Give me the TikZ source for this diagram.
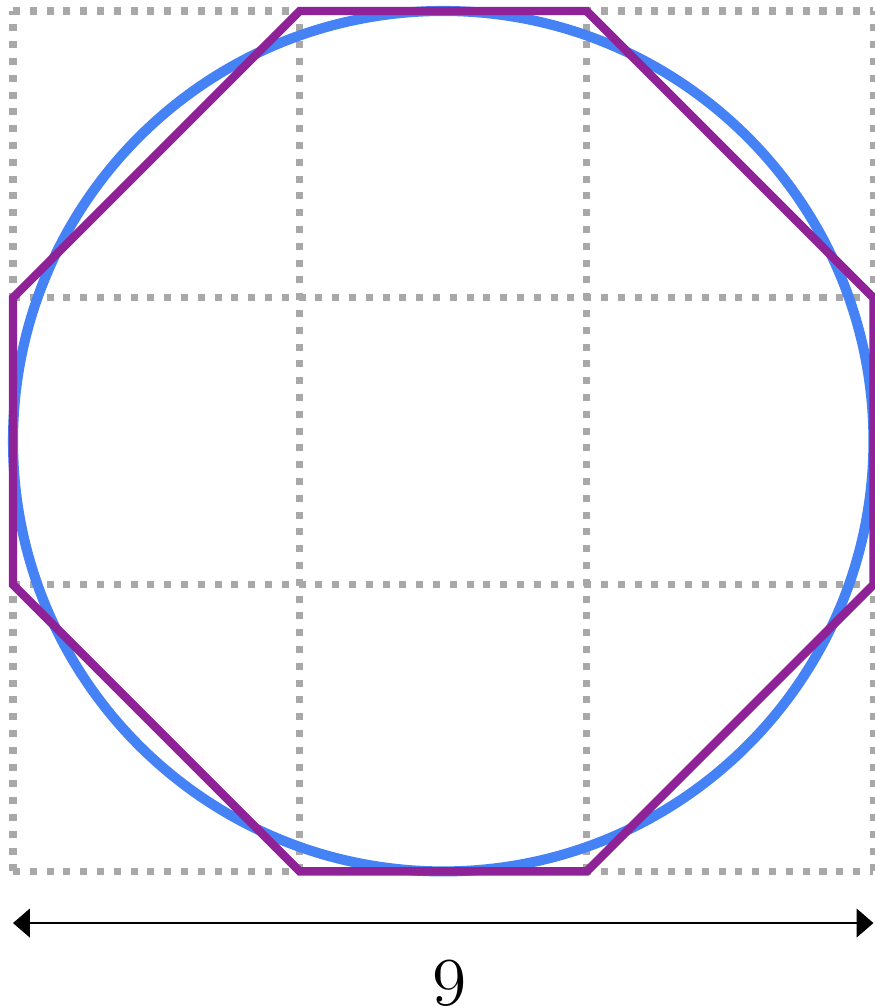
\documentclass[tikz,border=0pt]{standalone}
\usetikzlibrary{arrows.meta}
\definecolor{cblue}{HTML}{4482F5}
\definecolor{cpurple}{HTML}{8E2296}
\definecolor{cgrey}{HTML}{A8A8A8}
\tikzset{
  gridline/.style={draw=cgrey, line width=2.1pt, dash pattern=on 2.1pt off 2.9pt},
  circleline/.style={draw=cblue, line width=3pt},
  octline/.style={draw=cpurple, line width=2.5pt},
  dimarrow/.style={{Triangle[length=5pt,width=8.5pt]}-{Triangle[length=5pt,width=8.5pt]}, line width=0.6pt},
  dimlabel/.style={font=\fontsize{21}{24}\selectfont, inner sep=0pt},
}
\begin{document}
\begin{tikzpicture}
  \useasboundingbox (-0.136,-1.418) rectangle (9.01,9.115);
  % grid of 3x3 cells
  \foreach \k in {0,3,6,9} {
    \draw[gridline] (\k,0) -- (\k,9);
    \draw[gridline] (0,\k) -- (9,\k);
  }
  \draw[circleline] (4.5,4.5) circle (4.5);
  % octagon
  \coordinate (o1) at (3,9);
  \coordinate (o2) at (6,9);
  \coordinate (o3) at (9,6);
  \coordinate (o4) at (9,3);
  \coordinate (o5) at (6,0);
  \coordinate (o6) at (3,0);
  \coordinate (o7) at (0,3);
  \coordinate (o8) at (0,6);
  \draw[octline] (o1) -- (o2) -- (o3) -- (o4) -- (o5) -- (o6) -- (o7) -- (o8) -- cycle;
  % width
  \coordinate (wl) at (0,-0.54);
  \coordinate (wr) at (9,-0.54);
  \draw[dimarrow] (wl) -- (wr);
  \node[dimlabel] (w) at (4.57,-1.17) {$\mathnormal{9}$};
\end{tikzpicture}
\end{document}
